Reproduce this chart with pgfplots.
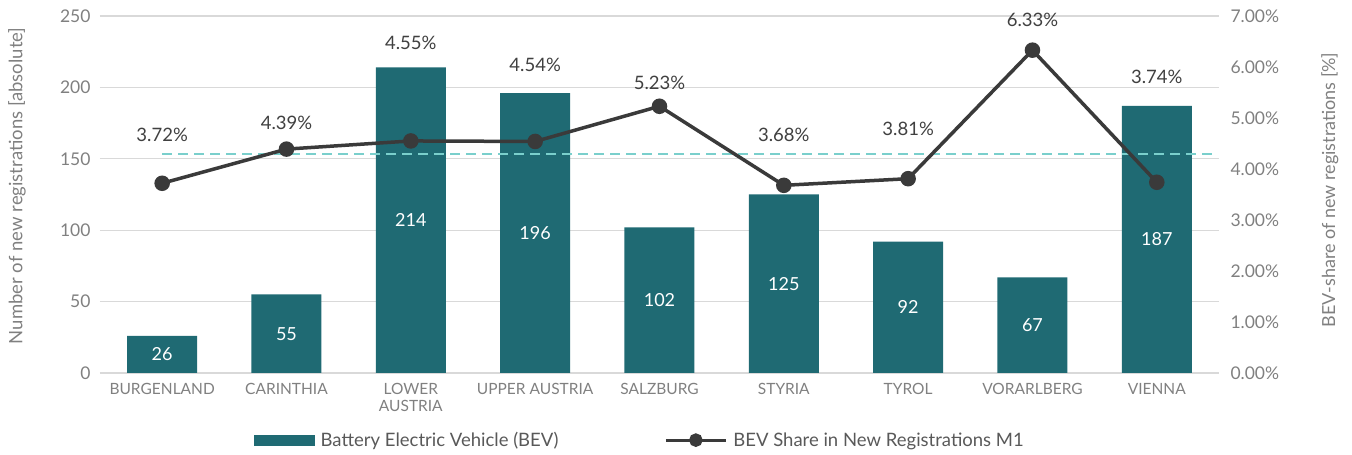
\documentclass[border=0pt]{standalone}
\usepackage{pgfplots}
\usepackage{pgfplotstable}
\pgfplotsset{compat=1.18}
\usepackage{fontspec}
\setmainfont{Lato}
\definecolor{barcol}{HTML}{1F6A73}
\definecolor{linecol}{HTML}{3A3A3A}
\definecolor{avgcol}{HTML}{7ACFCC}
\definecolor{gridcol}{HTML}{D9D9D9}
\definecolor{tickcol}{HTML}{808080}
\definecolor{labcol}{HTML}{404040}
\definecolor{legcol}{HTML}{595959}
\pgfplotsset{/pgf/number format/assume math mode=true}

\pgfplotstableread{
x v
0 26
1 55
2 214
3 196
4 102
5 125
6 92
7 67
8 187
}\bars
\pgfplotstableread{
x s ly
0 3.72 4.67
1 4.39 4.90
2 4.55 6.47
3 4.54 6.04
4 5.23 5.69
5 3.68 4.67
6 3.81 4.78
7 6.33 6.92
8 3.74 5.80
}\share

\begin{document}
\begin{tikzpicture}
\useasboundingbox (0,0) rectangle (1352pt,455pt);
\begin{axis}[
  at={(100pt,82pt)}, anchor=south west,
  width=1119pt, height=357pt, scale only axis,
  xmin=-0.5, xmax=8.5, ymin=0, ymax=250,
  ytick={0,50,...,250}, xtick={0,...,8},
  xticklabels={BURGENLAND, CARINTHIA, {LOWER\\AUSTRIA}, UPPER AUSTRIA, SALZBURG, STYRIA, TYROL, VORARLBERG, VIENNA},
  x tick label style={align=center, font=\fontsize{15.5}{17}\selectfont, text=tickcol, yshift=-7pt},
  y tick label style={font=\fontsize{17.5}{19}\selectfont, text=tickcol, xshift=-6pt},
  ymajorgrids, grid style={gridcol, line width=1.2pt},
  axis line style={draw=none}, major tick length=0pt,
  ylabel={Number of new registrations [absolute]},
  ylabel style={at={(axis description cs:-0.0742,0.524)}, anchor=center, font=\fontsize{18.5}{20}\selectfont, text=tickcol},
]
\addplot[ybar, bar width=70pt, fill=barcol, draw=none] table[x=x,y=v]{\bars};
\addplot[draw=none, nodes near coords={\pgfmathprintnumber{\pgfplotspointmeta}},
  point meta=\thisrow{v},
  every node near coord/.append style={anchor=center, text=white, font=\fontsize{18}{20}\selectfont}]
  table[x=x, y expr=\thisrow{v}/2]{\bars};
\end{axis}
\begin{axis}[
  at={(100pt,82pt)}, anchor=south west,
  width=1119pt, height=357pt, scale only axis,
  xmin=-0.5, xmax=8.5, ymin=0, ymax=7,
  axis x line=none, axis y line*=right,
  y axis line style={draw=none}, major tick length=0pt,
  ytick={0,...,7},
  yticklabel={\pgfmathprintnumber[fixed,fixed zerofill,precision=2]{\tick}\%},
  y tick label style={font=\fontsize{17.5}{19}\selectfont, text=tickcol, xshift=8pt},
  ylabel={BEV-share of new registrations [\%]},
  ylabel style={at={(axis description cs:1.099,0.513)}, anchor=center, font=\fontsize{18}{20}\selectfont, text=tickcol},
  legend columns=2,
  legend style={at={(axis description cs:0.4826,-0.188)}, anchor=center, draw=none, fill=none,
    font=\fontsize{18.5}{20}\selectfont, text=legcol, column sep=4pt,
    /tikz/every even column/.append style={column sep=104pt}},
]
\addlegendimage{legend image code/.code={\fill[barcol] (0pt,-5pt) rectangle (60pt,5pt);}}
\addlegendentry{Battery Electric Vehicle (BEV)}
\addplot[avgcol, line width=2.5pt, dash pattern=on 10pt off 6pt, forget plot] coordinates {(0,4.29) (8.46,4.29)};
\addplot[linecol, line width=3.5pt, mark=*, mark size=6pt, mark options={fill=linecol, draw=linecol},
  legend image code/.code={\draw[linecol, line width=3pt] (0pt,0pt)--(60pt,0pt); \fill[linecol] (30pt,0pt) circle (5pt);}]
  table[x=x,y=s]{\share};
\addlegendentry{BEV Share in New Registrations M1}
\addplot[draw=none, forget plot, nodes near coords={\pgfmathprintnumber[fixed,fixed zerofill,precision=2]{\pgfplotspointmeta}\%},
  point meta=\thisrow{s},
  every node near coord/.append style={anchor=center, text=labcol, font=\fontsize{18.5}{20}\selectfont}]
  table[x=x, y=ly]{\share};
\end{axis}
\end{tikzpicture}
\end{document}
